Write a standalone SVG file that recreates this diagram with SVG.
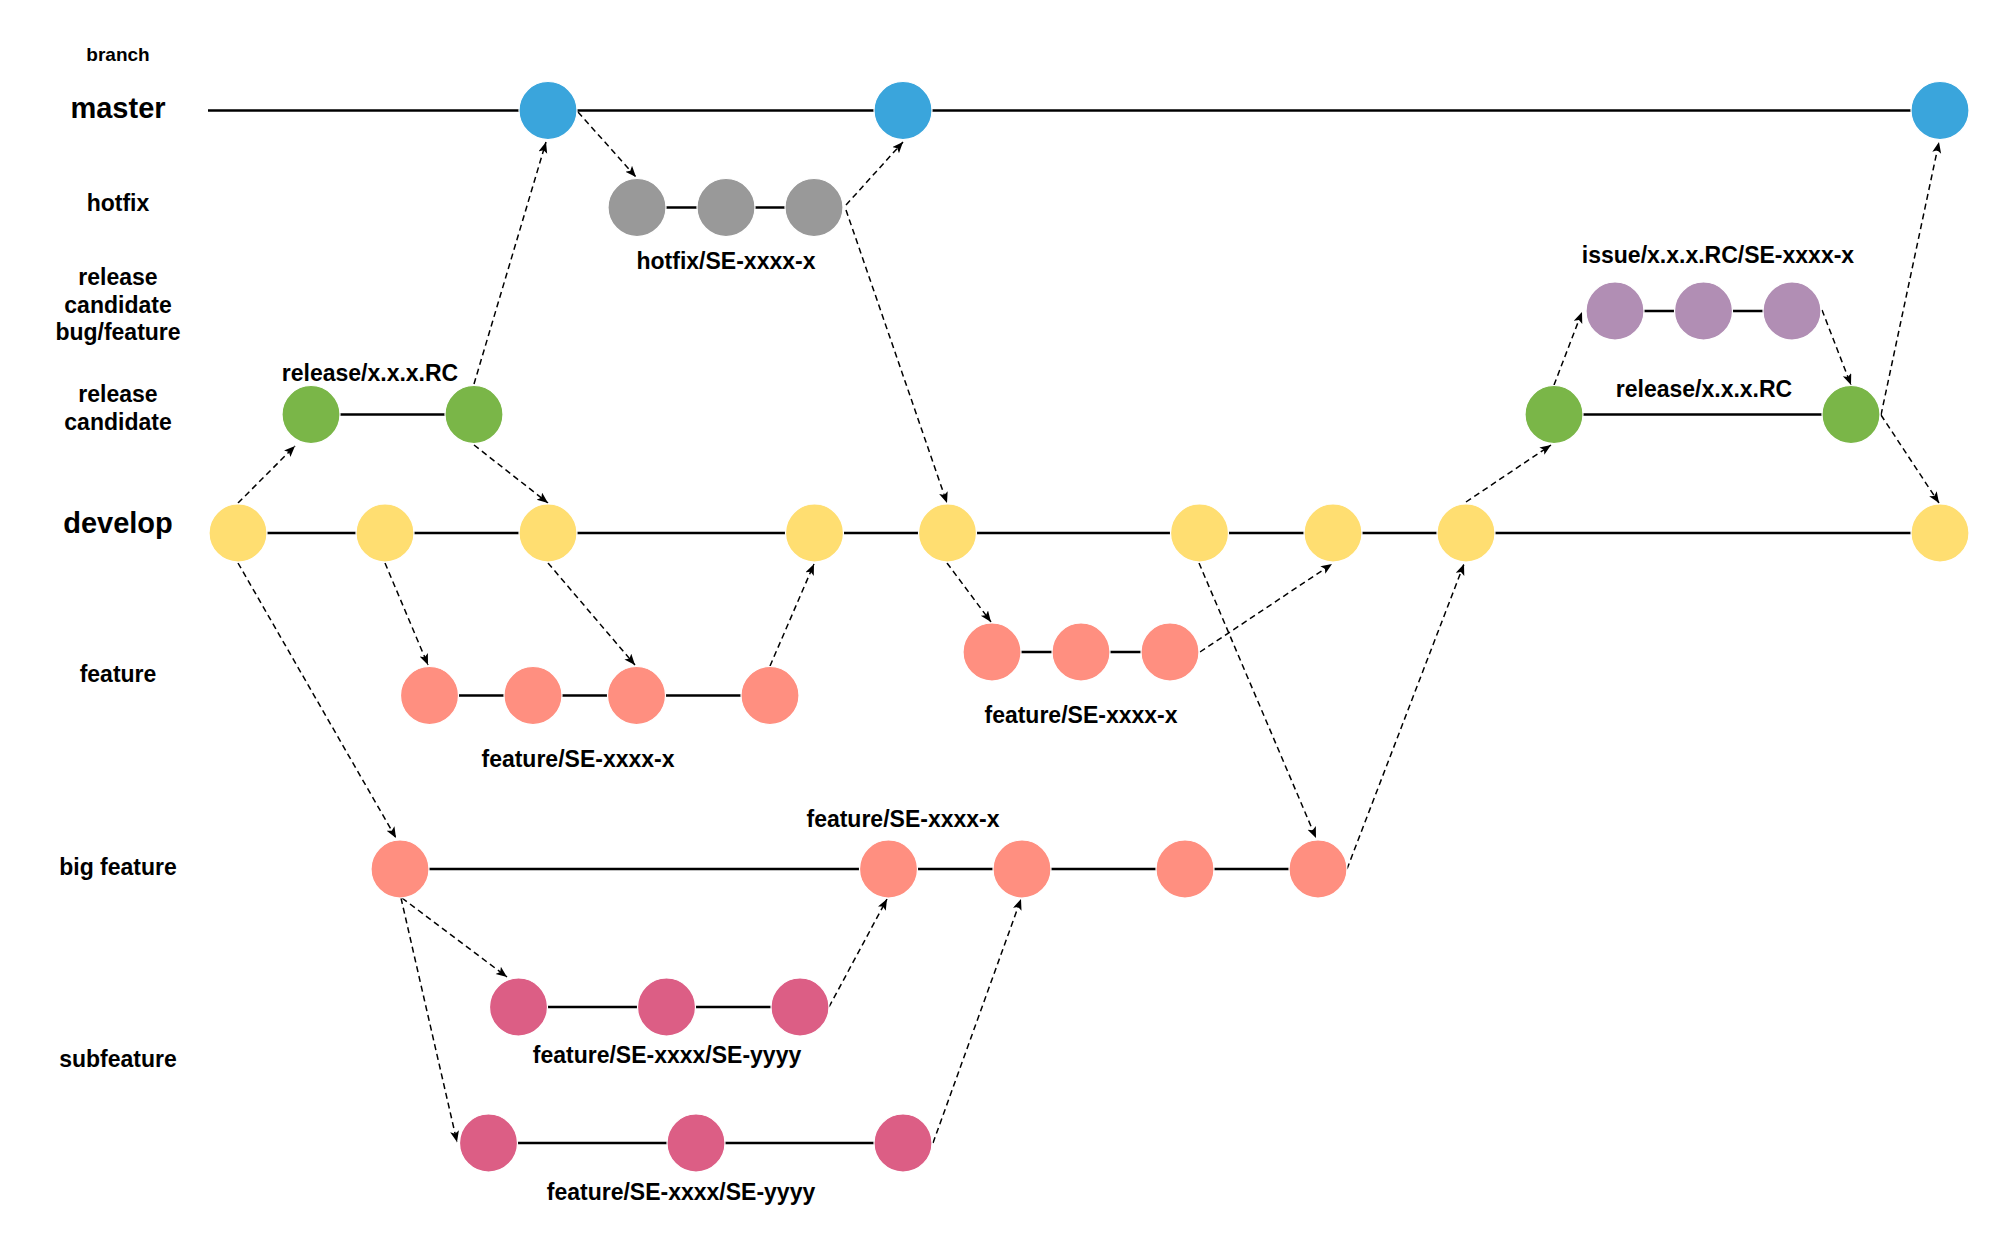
<svg xmlns="http://www.w3.org/2000/svg" width="2000" height="1248" viewBox="0 0 2000 1248">
  <style>
    text { font-family: "Liberation Sans", Arial, sans-serif; font-weight: bold; fill: #000; text-anchor: middle; }
    .lbl { font-size: 23px; }
    .big { font-size: 29px; }
    .small { font-size: 19px; }
    .branch { stroke: #000; stroke-width: 2.4; fill: none; }
    .arr { stroke: #000; stroke-width: 1.5; stroke-dasharray: 6 4; fill: none; marker-end: url(#ah); }
    circle { stroke: #fff; stroke-width: 1.2; }
    .blue { fill: #3AA5DC; }
    .gray { fill: #999999; }
    .purple { fill: #B18EB4; }
    .green { fill: #7AB648; }
    .yellow { fill: #FFDE71; }
    .salmon { fill: #FF8F80; }
    .pink { fill: #DC5E85; }
  </style>
  <defs>
    <marker id="ah" markerUnits="userSpaceOnUse" markerWidth="14" markerHeight="10" refX="11" refY="4.5" orient="auto">
      <path d="M0,0 L11,4.5 L0,9 L2.5,4.5 z" fill="#000"/>
    </marker>
  </defs>
  <rect width="2000" height="1248" fill="#fff"/>

  <g id="row-labels">
    <text class="small" x="118" y="61">branch</text>
    <text class="big" x="118" y="118">master</text>
    <text class="lbl" x="118" y="211">hotfix</text>
    <text class="lbl" x="118" y="285">release</text>
    <text class="lbl" x="118" y="312.5">candidate</text>
    <text class="lbl" x="118" y="340">bug/feature</text>
    <text class="lbl" x="118" y="402">release</text>
    <text class="lbl" x="118" y="430">candidate</text>
    <text class="big" x="118" y="533">develop</text>
    <text class="lbl" x="118" y="682">feature</text>
    <text class="lbl" x="118" y="875">big feature</text>
    <text class="lbl" x="118" y="1067">subfeature</text>
  </g>

  <g id="branch-labels">
    <text class="lbl" x="726" y="269">hotfix/SE-xxxx-x</text>
    <text class="lbl" x="1718" y="263">issue/x.x.x.RC/SE-xxxx-x</text>
    <text class="lbl" x="1704" y="397">release/x.x.x.RC</text>
    <text class="lbl" x="370" y="381">release/x.x.x.RC</text>
    <text class="lbl" x="578" y="767">feature/SE-xxxx-x</text>
    <text class="lbl" x="1081" y="723">feature/SE-xxxx-x</text>
    <text class="lbl" x="903" y="827">feature/SE-xxxx-x</text>
    <text class="lbl" x="667" y="1063">feature/SE-xxxx/SE-yyyy</text>
    <text class="lbl" x="681" y="1200">feature/SE-xxxx/SE-yyyy</text>
  </g>

  <g id="branch-lines">
    <line class="branch" x1="208" y1="110.5" x2="1940" y2="110.5"/>
    <line class="branch" x1="637" y1="207.5" x2="814" y2="207.5"/>
    <line class="branch" x1="1615" y1="311" x2="1792" y2="311"/>
    <line class="branch" x1="311" y1="414.5" x2="474" y2="414.5"/>
    <line class="branch" x1="1554" y1="414.5" x2="1851" y2="414.5"/>
    <line class="branch" x1="238" y1="533" x2="1940" y2="533"/>
    <line class="branch" x1="429" y1="695.5" x2="770" y2="695.5"/>
    <line class="branch" x1="992" y1="652" x2="1170" y2="652"/>
    <line class="branch" x1="400" y1="869" x2="1318" y2="869"/>
    <line class="branch" x1="518.5" y1="1007" x2="800" y2="1007"/>
    <line class="branch" x1="488.5" y1="1143" x2="903" y2="1143"/>
  </g>

  <g id="connectors">
    <line class="arr" x1="238" y1="503" x2="295" y2="446"/>
    <line class="arr" x1="474" y1="384" x2="546" y2="142"/>
    <line class="arr" x1="474" y1="445" x2="548" y2="503"/>
    <line class="arr" x1="578" y1="112" x2="636" y2="177"/>
    <line class="arr" x1="846" y1="205" x2="903" y2="142"/>
    <line class="arr" x1="846" y1="210" x2="947" y2="503"/>
    <line class="arr" x1="238" y1="563" x2="396" y2="838"/>
    <line class="arr" x1="385" y1="563" x2="428" y2="665"/>
    <line class="arr" x1="548" y1="563" x2="635" y2="665"/>
    <line class="arr" x1="770" y1="666" x2="814" y2="564"/>
    <line class="arr" x1="947" y1="563" x2="991" y2="622"/>
    <line class="arr" x1="1200" y1="652" x2="1332" y2="564"/>
    <line class="arr" x1="1199" y1="563" x2="1316" y2="838"/>
    <line class="arr" x1="1347" y1="869" x2="1464" y2="564"/>
    <line class="arr" x1="1466" y1="502" x2="1551" y2="445"/>
    <line class="arr" x1="1554" y1="385" x2="1582" y2="312"/>
    <line class="arr" x1="1822" y1="310" x2="1851" y2="385"/>
    <line class="arr" x1="1881" y1="415" x2="1939" y2="142"/>
    <line class="arr" x1="1881" y1="415" x2="1939" y2="503"/>
    <line class="arr" x1="402" y1="898" x2="507" y2="977"/>
    <line class="arr" x1="401" y1="898" x2="457" y2="1142"/>
    <line class="arr" x1="829" y1="1007" x2="887" y2="899"/>
    <line class="arr" x1="933" y1="1143" x2="1021" y2="899"/>
  </g>

  <g id="nodes">
    <g id="m1"><circle class="blue" cx="548" cy="110.5" r="29"/></g>
    <g id="m2"><circle class="blue" cx="903" cy="110.5" r="29"/></g>
    <g id="m3"><circle class="blue" cx="1940" cy="110.5" r="29"/></g>

    <g id="h1"><circle class="gray" cx="637" cy="207.5" r="29"/></g>
    <g id="h2"><circle class="gray" cx="726" cy="207.5" r="29"/></g>
    <g id="h3"><circle class="gray" cx="814" cy="207.5" r="29"/></g>

    <g id="p1"><circle class="purple" cx="1615" cy="311" r="29"/></g>
    <g id="p2"><circle class="purple" cx="1703.5" cy="311" r="29"/></g>
    <g id="p3"><circle class="purple" cx="1792" cy="311" r="29"/></g>

    <g id="r1"><circle class="green" cx="311" cy="414.5" r="29"/></g>
    <g id="r2"><circle class="green" cx="474" cy="414.5" r="29"/></g>
    <g id="r3"><circle class="green" cx="1554" cy="414.5" r="29"/></g>
    <g id="r4"><circle class="green" cx="1851" cy="414.5" r="29"/></g>

    <g id="d1"><circle class="yellow" cx="238" cy="533" r="29"/></g>
    <g id="d2"><circle class="yellow" cx="385" cy="533" r="29"/></g>
    <g id="d3"><circle class="yellow" cx="548" cy="533" r="29"/></g>
    <g id="d4"><circle class="yellow" cx="814.5" cy="533" r="29"/></g>
    <g id="d5"><circle class="yellow" cx="947.5" cy="533" r="29"/></g>
    <g id="d6"><circle class="yellow" cx="1199.5" cy="533" r="29"/></g>
    <g id="d7"><circle class="yellow" cx="1333" cy="533" r="29"/></g>
    <g id="d8"><circle class="yellow" cx="1466" cy="533" r="29"/></g>
    <g id="d9"><circle class="yellow" cx="1940" cy="533" r="29"/></g>

    <g id="f1"><circle class="salmon" cx="429.5" cy="695.5" r="29"/></g>
    <g id="f2"><circle class="salmon" cx="533" cy="695.5" r="29"/></g>
    <g id="f3"><circle class="salmon" cx="636.5" cy="695.5" r="29"/></g>
    <g id="f4"><circle class="salmon" cx="770" cy="695.5" r="29"/></g>

    <g id="g1"><circle class="salmon" cx="992" cy="652" r="29"/></g>
    <g id="g2"><circle class="salmon" cx="1081" cy="652" r="29"/></g>
    <g id="g3"><circle class="salmon" cx="1170" cy="652" r="29"/></g>

    <g id="b1"><circle class="salmon" cx="400" cy="869" r="29"/></g>
    <g id="b2"><circle class="salmon" cx="888.5" cy="869" r="29"/></g>
    <g id="b3"><circle class="salmon" cx="1022" cy="869" r="29"/></g>
    <g id="b4"><circle class="salmon" cx="1185" cy="869" r="29"/></g>
    <g id="b5"><circle class="salmon" cx="1318" cy="869" r="29"/></g>

    <g id="s1"><circle class="pink" cx="518.5" cy="1007" r="29"/></g>
    <g id="s2"><circle class="pink" cx="666.5" cy="1007" r="29"/></g>
    <g id="s3"><circle class="pink" cx="800" cy="1007" r="29"/></g>

    <g id="t1"><circle class="pink" cx="488.5" cy="1143" r="29"/></g>
    <g id="t2"><circle class="pink" cx="696" cy="1143" r="29"/></g>
    <g id="t3"><circle class="pink" cx="903" cy="1143" r="29"/></g>
  </g>
</svg>
